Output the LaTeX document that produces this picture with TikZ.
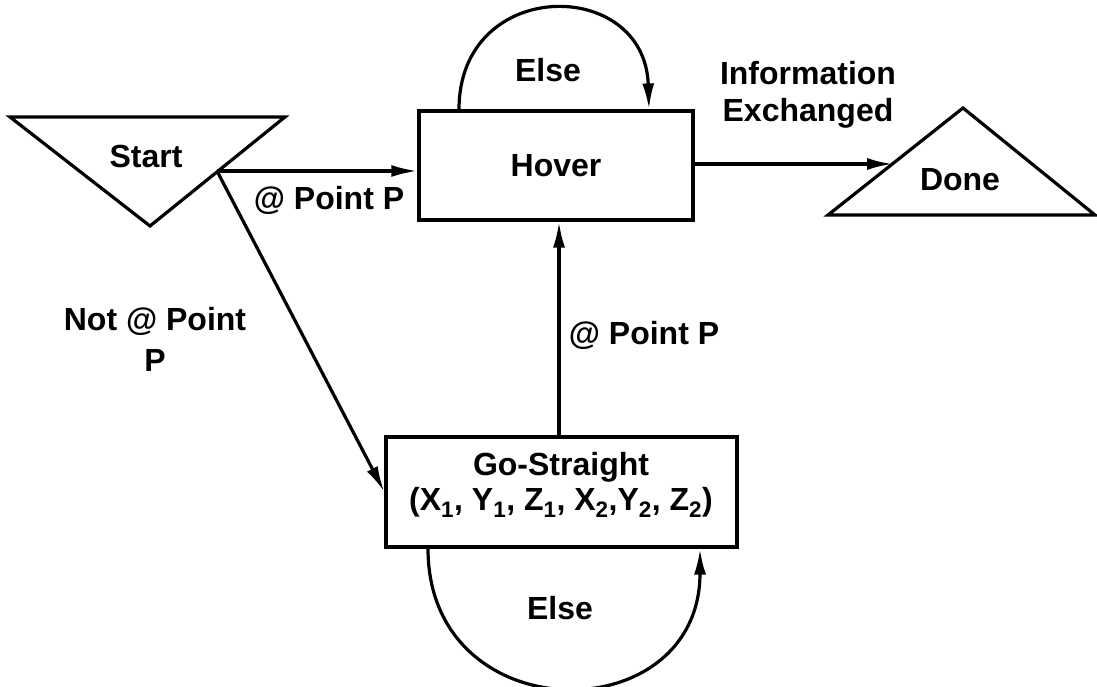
\documentclass[tikz,border=0pt]{standalone}
\usepackage{fontspec}
\setmainfont{Liberation Sans}
\usetikzlibrary{arrows.meta,calc}
\begin{document}
\begin{tikzpicture}[x=1pt,y=1pt,
  every node/.style={font=\fontsize{32}{37}\selectfont\bfseries},
  box/.style={draw,line width=3.2pt,inner sep=0pt,align=center},
  lbl/.style={align=center,inner sep=0pt},
  link/.style={line width=3.2pt,-{Latex[length=26pt,width=12pt]}},
  shp/.style={line width=3.2pt,line join=miter}]
\useasboundingbox (0,0) rectangle (1097,-687);
% Start triangle
\draw[shp] (10,-117) -- (285,-117) -- (150,-226) -- cycle;
\node (start) at (146,-156) {Start};
\coordinate (s1) at (217,-171);
% Done triangle
\draw[shp] (828,-215) -- (963,-108) -- (1095,-215) -- cycle;
\node (done) at (960,-180) {Done};
% Boxes
\node[box,minimum width=274pt,minimum height=109pt] (hover) at (556,-165.5) {Hover};
\node[box,minimum width=351pt,minimum height=110pt] (gs) at (561.5,-492) {};
\node[lbl] (gstext) at (561,-485) {Go-Straight\\[-2pt](X\textsubscript{1}, Y\textsubscript{1}, Z\textsubscript{1}, X\textsubscript{2},Y\textsubscript{2}, Z\textsubscript{2})};
% connectors
\coordinate (d1) at (893,-164);
\coordinate (v1) at ($(gs.north)+(-2.5,0)$);
\coordinate (t1) at ($(hover.north)+(-97,0)$);
\coordinate (t2) at ($(hover.north)+(93,0)$);
\coordinate (b1) at ($(gs.south)+(-133.5,0)$);
\coordinate (b2) at ($(gs.south)+(138.5,0)$);
\draw[link] (s1) -- (s1 -| hover.west);
\draw[link] (hover.east |- d1) -- (d1);
\draw[link] (s1) -- (gs.west);
\draw[link] (v1) -- (v1 |- hover.south);
\draw[link] (t1) .. controls +(0,133) and +(-4,133) .. (t2);
\draw[link] (b1) .. controls +(0,-184) and +(0,-184) .. (b2);
% labels
\node[lbl] (l1) at (329,-200) {@ Point P};
\node[lbl] (l2) at (155,-339) {Not @ Point\\[4pt]P};
\node[lbl] (l3) at (644,-335) {@ Point P};
\node[lbl] (l4) at (548,-70) {Else};
\node[lbl] (l5) at (808,-95) {Information\\Exchanged};
\node[lbl] (l6) at (560,-608) {Else};
\end{tikzpicture}
\end{document}
